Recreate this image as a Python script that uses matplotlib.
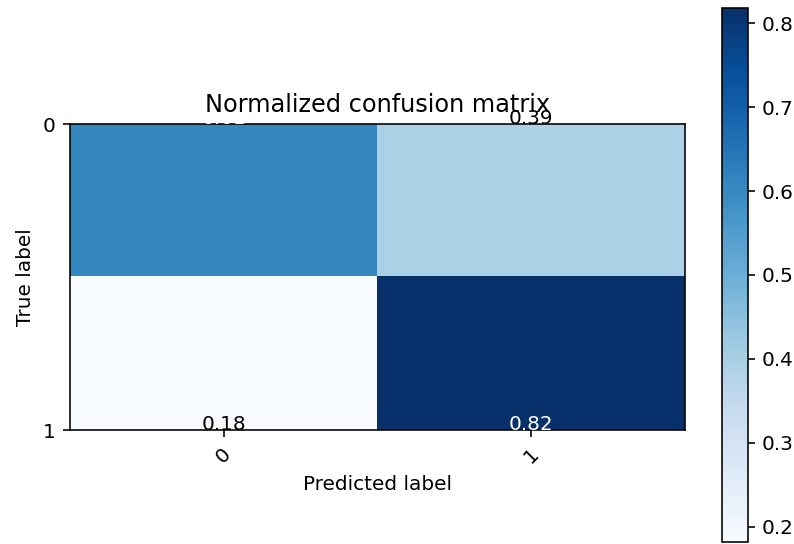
import matplotlib
matplotlib.use("Agg")
import matplotlib.pyplot as plt
import numpy as np

classes = ["0", "1"]
cm_values = [[0.609, 0.391],
             [0.182, 0.818]]
title = "Normalized confusion matrix"

DPI = 144
fig = plt.figure(figsize=(794 / DPI, 544 / DPI), dpi=DPI)
ax = fig.add_axes([70 / 794, 1 - 430 / 544, 615 / 794, 306 / 544])
cax = fig.add_axes([722 / 794, 1 - 542 / 544, 26 / 794, 534 / 544])

cm = np.array(cm_values)
im = ax.imshow(cm, interpolation="nearest", cmap=plt.cm.Blues, aspect="auto")
ax.set_title(title)
fig.colorbar(im, cax=cax)

tick_marks = np.arange(len(classes))
ax.set_xticks(tick_marks)
ax.set_xticklabels(classes, rotation=45)
ax.set_yticks(tick_marks)
ax.set_yticklabels(classes)

thresh = cm.max() / 2.0
for i in range(cm.shape[0]):
    for j in range(cm.shape[1]):
        ax.text(j, i, format(cm[i, j], ".2f"),
                horizontalalignment="center",
                color="white" if cm[i, j] > thresh else "black")

ax.set_xlim(-0.5, 1.5)
ax.set_ylim(1, 0)
ax.set_ylabel("True label")
ax.set_xlabel("Predicted label")

fig.savefig("out.png", dpi=DPI)
